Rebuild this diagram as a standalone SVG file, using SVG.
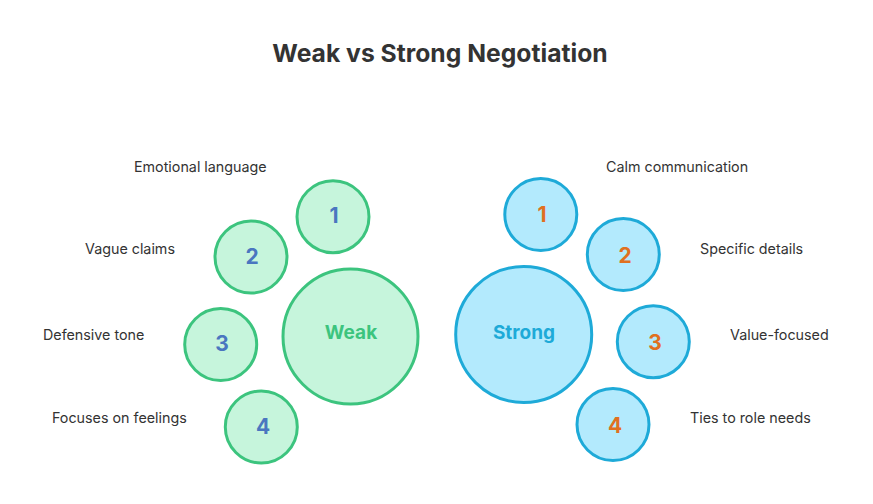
<svg xmlns="http://www.w3.org/2000/svg" width="873" height="504" viewBox="0 0 873 504">
<style>
.title{font-family:Inter,"Noto Sans",sans-serif;font-weight:700;font-size:24.7px;fill:#333333}
.lbl{font-family:Inter,"Noto Sans",sans-serif;font-size:14.3px;fill:#333333}
.gc{fill:#C6F5DC;stroke:#3CC47E;stroke-width:3}
.bc{fill:#B3EAFD;stroke:#1EAAD8;stroke-width:3}
.num{font-family:Inter,"Noto Sans",sans-serif;font-weight:700;font-size:21px;text-anchor:middle;dominant-baseline:central}
.nw{fill:#4A76C0}
.ns{fill:#E07020}
.big{font-family:Inter,"Noto Sans",sans-serif;font-weight:700;font-size:19px;text-anchor:middle;dominant-baseline:central}
</style>
<rect width="873" height="504" fill="#FFFFFF"/>
<text class="title" x="440" y="62" text-anchor="middle">Weak vs Strong Negotiation</text>
<g id="weak">
<circle class="gc" cx="350.5" cy="336.5" r="67.5"/>
<text class="big" x="351" y="332" fill="#3CC47E">Weak</text>
</g>
<g id="weak-1"><circle class="gc" cx="333" cy="216.7" r="36"/><text class="num nw" x="334" y="215">1</text></g>
<g id="weak-2"><circle class="gc" cx="251" cy="257" r="36"/><text class="num nw" x="252" y="256">2</text></g>
<g id="weak-3"><circle class="gc" cx="220.7" cy="344.5" r="36"/><text class="num nw" x="222" y="343">3</text></g>
<g id="weak-4"><circle class="gc" cx="261.3" cy="427" r="36"/><text class="num nw" x="263" y="426">4</text></g>
<g id="strong">
<circle class="bc" cx="523.7" cy="334.5" r="68"/>
<text class="big" x="524" y="332" fill="#1EAAD8">Strong</text>
</g>
<g id="strong-1"><circle class="bc" cx="540.8" cy="214.5" r="36"/><text class="num ns" x="542" y="214">1</text></g>
<g id="strong-2"><circle class="bc" cx="623.3" cy="254.5" r="36"/><text class="num ns" x="625" y="255">2</text></g>
<g id="strong-3"><circle class="bc" cx="653.3" cy="341.7" r="36"/><text class="num ns" x="655" y="342">3</text></g>
<g id="strong-4"><circle class="bc" cx="613" cy="424.5" r="36"/><text class="num ns" x="615" y="425">4</text></g>
<g id="labels">
<text class="lbl" x="134" y="172">Emotional language</text>
<text class="lbl" x="85" y="254">Vague claims</text>
<text class="lbl" x="43" y="340">Defensive tone</text>
<text class="lbl" x="52" y="423">Focuses on feelings</text>
<text class="lbl" x="606" y="172">Calm communication</text>
<text class="lbl" x="700" y="254">Specific details</text>
<text class="lbl" x="730" y="340">Value-focused</text>
<text class="lbl" x="690" y="423">Ties to role needs</text>
</g>
</svg>
